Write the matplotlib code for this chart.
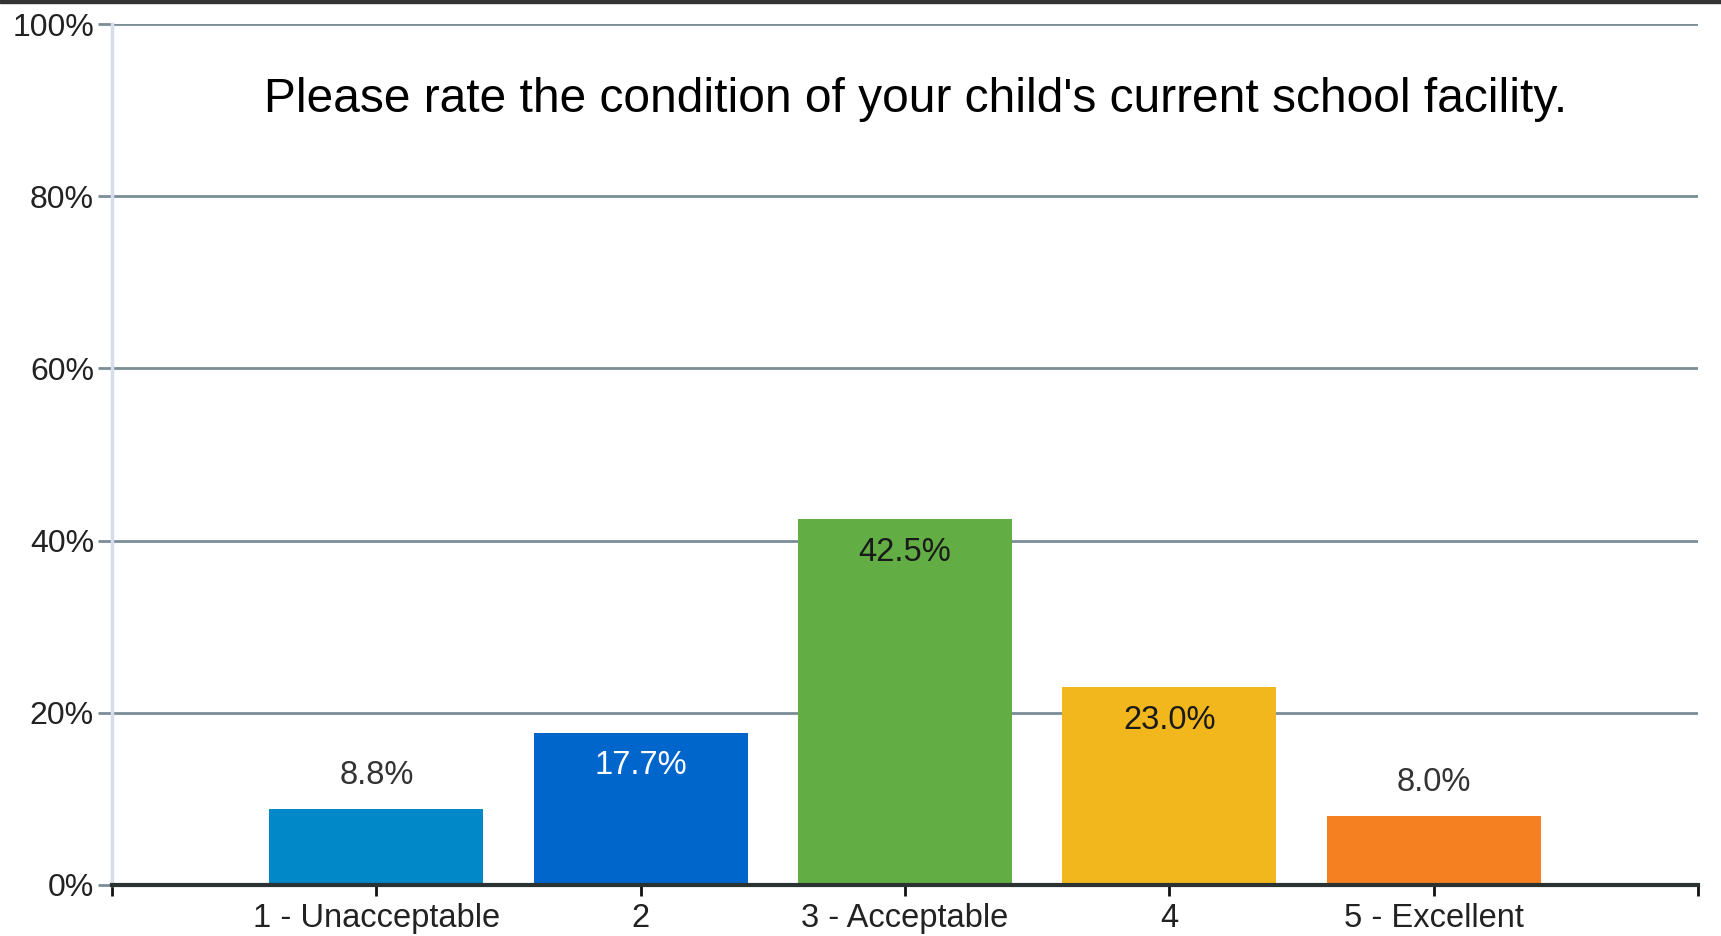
#!/usr/bin/env python3
# === Survey bar chart: school facility condition ===
import matplotlib
matplotlib.use('Agg')
import matplotlib.pyplot as plt
from matplotlib.ticker import FuncFormatter

# === Data ===
categories = ['1 - Unacceptable', '2', '3 - Acceptable', '4', '5 - Excellent']
values = [8.8, 17.7, 42.5, 23.0, 8.0]
bar_colors = ['#0088C8', '#0066CC', '#62AE45', '#F2B71D', '#F58022']
label_colors = ['#333333', '#FFFFFF', '#1A1A1A', '#1A1A1A', '#333333']
title = "Please rate the condition of your child's current school facility."

plt.rcParams['font.family'] = ['Liberation Sans', 'DejaVu Sans']

# === Figure ===
fig = plt.figure(figsize=(17.21, 9.36), dpi=100)
ax = fig.add_axes([112 / 1721, 1 - 885 / 936, (1698 - 112) / 1721, (885 - 24) / 936])

x = list(range(len(categories)))
bars = ax.bar(x, values, width=0.81, color=bar_colors, zorder=3)

# value labels: inside the bar top for tall bars, above it for short ones
for rect, v, c in zip(bars, values, label_colors):
    cx = rect.get_x() + rect.get_width() / 2
    off = -24 if v > 12 else 24
    ax.annotate(f'{v:.1f}%', (cx, v), xytext=(0, off), textcoords='offset points',
                ha='center', va='center', fontsize=23.5, color=c, zorder=4)

# === Axes styling ===
ax.set_xlim(-1, len(categories))
ax.set_ylim(0, 100)
ax.set_yticks([0, 20, 40, 60, 80, 100])
ax.yaxis.set_major_formatter(FuncFormatter(lambda v, p: f'{v:.0f}%'))
ax.set_xticks([-1] + x + [len(categories)])
ax.set_xticklabels([''] + categories + [''])

ax.grid(axis='y', color='#7B8D97', linewidth=2, zorder=1)
ax.set_axisbelow(True)

ax.tick_params(axis='y', length=10, width=2, color='#7B8D97', labelsize=23,
               labelcolor='#222222', pad=3)
ax.tick_params(axis='x', length=8, width=2, color='#111111', labelsize=23.5,
               labelcolor='#222222', pad=5)

for s in ('top', 'right'):
    ax.spines[s].set_visible(False)
ax.spines['left'].set_color('#D6DCEC')
ax.spines['left'].set_linewidth(2.5)
ax.spines['bottom'].set_color('#2A3232')
ax.spines['bottom'].set_linewidth(3)
ax.spines['bottom'].set_zorder(5)

fig.text(916 / 1721, 1 - 100 / 936, title, ha='center', va='center', fontsize=34.5,
         color='#000000')

# dark border line at the very top
fig.add_artist(plt.Rectangle((0, 1 - 3 / 936), 1, 3 / 936, transform=fig.transFigure,
                             color='#333333', zorder=10))

plt.savefig('out.png', dpi=100)
